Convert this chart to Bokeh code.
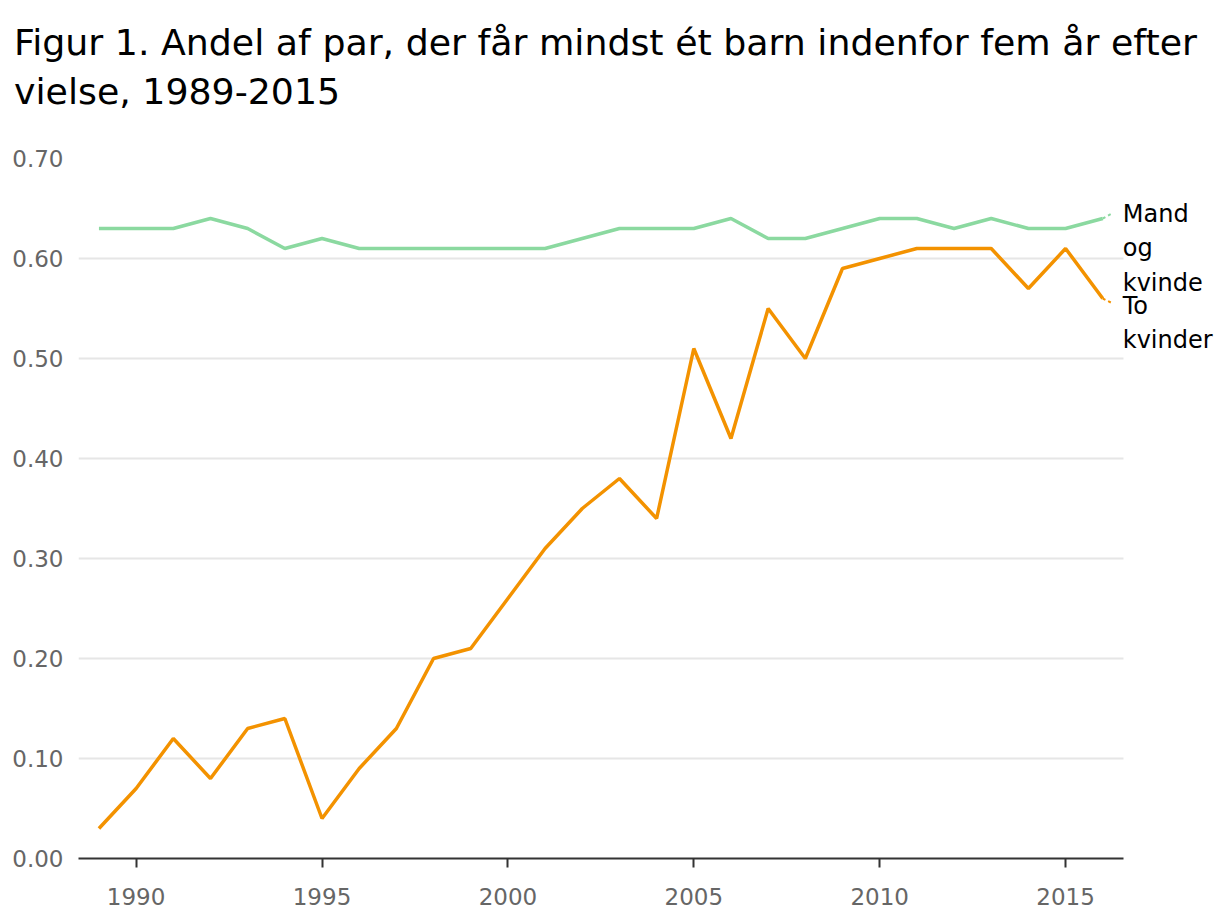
from bokeh.plotting import figure
from bokeh.models import Range1d, FixedTicker, NumeralTickFormatter, Div
from bokeh.layouts import column
from bokeh.embed import file_html
from bokeh.resources import INLINE
from bokeh.core.properties import value

years = list(range(1989, 2017))
mand_og_kvinde = [0.63, 0.63, 0.63, 0.64, 0.63, 0.61, 0.62, 0.61, 0.61, 0.61,
                  0.61, 0.61, 0.61, 0.62, 0.63, 0.63, 0.63, 0.64, 0.62, 0.62,
                  0.63, 0.64, 0.64, 0.63, 0.64, 0.63, 0.63, 0.64]
to_kvinder = [0.03, 0.07, 0.12, 0.08, 0.13, 0.14, 0.04, 0.09, 0.13, 0.20,
              0.21, 0.26, 0.31, 0.35, 0.38, 0.34, 0.51, 0.42, 0.55, 0.50,
              0.59, 0.60, 0.61, 0.61, 0.61, 0.57, 0.61, 0.56]
x_ticks = [1990, 1995, 2000, 2005, 2010, 2015]
y_ticks = [0.0, 0.1, 0.2, 0.3, 0.4, 0.5, 0.6, 0.7]
title_lines = ["Figur 1. Andel af par, der får mindst ét barn indenfor fem år efter",
               "vielse, 1989-2015"]
series_labels = [["Mand", "og", "kvinde"], ["To", "kvinder"]]

GREEN = "#8bd9a0"
ORANGE = "#f39200"
FONT = "DejaVu Sans"

W = 1216
TITLE_H = 116
H = 920 - TITLE_H
LEFT, RIGHT = 78, 2
x_start, x_end_axis = 1988.45, 2016.55
axis_px = 1044.7  # pixel length of the axis part of the frame
frame_px = W - LEFT - RIGHT
x_end = x_start + (x_end_axis - x_start) * frame_px / axis_px

title = Div(text="<br>".join(title_lines), width=W, height=TITLE_H, margin=0,
            styles={"font-family": FONT, "font-size": "36.3px",
                    "line-height": "49px", "color": "#000000",
                    "padding-left": "14px", "padding-top": "18px",
                    "white-space": "nowrap", "box-sizing": "border-box"})

p = figure(width=W, height=H, output_backend="svg", toolbar_location=None,
           x_range=Range1d(x_start, x_end), y_range=Range1d(0, 0.70),
           min_border_left=LEFT, min_border_right=RIGHT, min_border_bottom=62,
           min_border_top=158 - TITLE_H, margin=0)
p.outline_line_color = None
p.background_fill_color = "white"
p.border_fill_color = "white"

p.xgrid.grid_line_color = None
p.ygrid.grid_line_color = "#e6e6e6"
p.ygrid.grid_line_width = 2
try:
    p.ygrid.cross_bounds = (x_start, x_end_axis)
except Exception:
    pass

p.xaxis.bounds = (x_start, x_end_axis)
p.xaxis.ticker = FixedTicker(ticks=x_ticks)
p.xaxis.axis_line_color = "#333333"
p.xaxis.axis_line_width = 2
p.xaxis.major_tick_line_color = "#333333"
p.xaxis.major_tick_line_width = 2
p.xaxis.major_tick_out = 9
p.xaxis.major_tick_in = 0
p.xaxis.minor_tick_line_color = None
p.xaxis.major_label_text_font = FONT
p.xaxis.major_label_text_font_size = "23px"
p.xaxis.major_label_text_color = "#666666"
p.xaxis.major_label_standoff = 20

p.yaxis.ticker = FixedTicker(ticks=y_ticks)
p.yaxis.formatter = NumeralTickFormatter(format="0.00")
p.yaxis.axis_line_color = None
p.yaxis.major_tick_line_color = None
p.yaxis.minor_tick_line_color = None
p.yaxis.major_label_text_font = FONT
p.yaxis.major_label_text_font_size = "23px"
p.yaxis.major_label_text_color = "#666666"
p.yaxis.major_label_standoff = 9

p.line(years, mand_og_kvinde, line_color=GREEN, line_width=3.5)
p.line(years, to_kvinder, line_color=ORANGE, line_width=3.5)

# short dashed leader lines towards the labels
p.segment(x0=[years[-1]], y0=[mand_og_kvinde[-1]], x1=[years[-1] + 0.25],
          y1=[mand_og_kvinde[-1] + 0.005], line_color=GREEN, line_width=2,
          line_dash="3 3")
p.segment(x0=[years[-1]], y0=[to_kvinder[-1]], x1=[years[-1] + 0.27],
          y1=[to_kvinder[-1] - 0.005], line_color=ORANGE, line_width=2,
          line_dash="3 3")

# end labels (baseline offsets in pixels below the last point)
first_offsets = [-5, 7]
ends = [mand_og_kvinde[-1], to_kvinder[-1]]
for lines, yend, off in zip(series_labels, ends, first_offsets):
    for k, word in enumerate(lines):
        p.text(x=[years[-1]], y=[yend], text=[word], x_offset=20,
               y_offset=off + k * 34.5, text_font=value(FONT),
               text_font_size="24px", text_color="#000000",
               text_baseline="alphabetic", text_align="left")

layout = column(title, p, spacing=0, margin=0)
open("out.html", "w").write(file_html(layout, INLINE))
